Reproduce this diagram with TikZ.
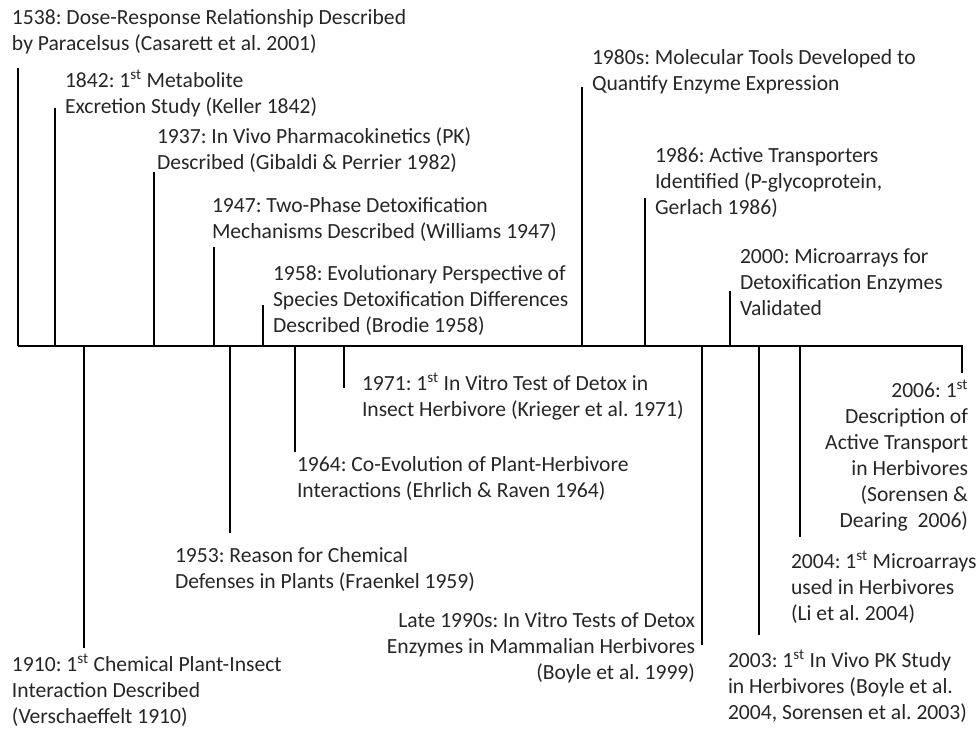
\documentclass[tikz,border=0pt]{standalone}
\usepackage{fontspec}
\setmainfont{Carlito}
\frenchspacing
\begin{document}
\begin{tikzpicture}[x=1pt,y=-1pt,
  tick/.style={line width=2.8pt,black},
  lbl/.style={inner sep=0pt,outer sep=0pt,font=\frenchspacing\fontsize{21.6}{26}\selectfont,text=black!85},
  lblL/.style={lbl,align=left,anchor=base west},
  lblR/.style={lbl,align=right,anchor=base east}]
\useasboundingbox (0,0) rectangle (977,729);
\def\st{\textsuperscript{st}}
% axis coordinates
\coordinate (a0) at (18,346);
\coordinate (aE) at (962,346);
\coordinate (eE) at (962,373);
% upward ticks
\coordinate (u1538) at (18,68);   \coordinate (b1538) at (18,346);
\coordinate (u1842) at (55,108);  \coordinate (b1842) at (55,346);
\coordinate (u1937) at (154,172); \coordinate (b1937) at (154,346);
\coordinate (u1947) at (214,247); \coordinate (b1947) at (214,346);
\coordinate (u1958) at (263,305); \coordinate (b1958) at (263,346);
\coordinate (u1980) at (582,87);  \coordinate (b1980) at (582,346);
\coordinate (u1986) at (645,198); \coordinate (b1986) at (645,346);
\coordinate (u2000) at (730,291); \coordinate (b2000) at (730,346);
% downward ticks
\coordinate (d1910) at (84,648);  \coordinate (c1910) at (84,346);
\coordinate (d1953) at (230,533); \coordinate (c1953) at (230,346);
\coordinate (d1964) at (295,452); \coordinate (c1964) at (295,346);
\coordinate (d1971) at (344,388); \coordinate (c1971) at (344,346);
\coordinate (d1990) at (702,645); \coordinate (c1990) at (702,346);
\coordinate (d2003) at (759,635); \coordinate (c2003) at (759,346);
\coordinate (d2004) at (800,537); \coordinate (c2004) at (800,346);

\draw[tick,line join=miter] (a0) -- (aE) -- (eE);
\foreach \n in {1538,1842,1937,1947,1958,1980,1986,2000}
  \draw[tick] (b\n) -- (u\n);
\foreach \n in {1910,1953,1964,1971,1990,2003,2004}
  \draw[tick] (c\n) -- (d\n);

% labels above (anchor = baseline of last line)
\node[lblL] (t1538) at (12,50) {1538: Dose-Response Relationship Described\\by Paracelsus (Casarett et al. 2001)};
\node[lblL] (t1842) at (65,113) {1842: 1\st{} Metabolite\\Excretion Study (Keller 1842)};
\node[lblL] (t1937) at (157,169) {1937: In Vivo Pharmacokinetics (PK)\\Described (Gibaldi \& Perrier 1982)};
\node[lblL] (t1947) at (212,238) {1947: Two-Phase Detoxification\\Mechanisms Described (Williams 1947)};
\node[lblL] (t1958) at (273,332) {1958: Evolutionary Perspective of\\Species Detoxification Differences\\Described (Brodie 1958)};
\node[lblL] (t1980) at (592,90) {1980s: Molecular Tools Developed to\\Quantify Enzyme Expression};
\node[lblL] (t1986) at (655,214) {1986: Active Transporters\\Identified (P-glycoprotein,\\Gerlach 1986)};
\node[lblL] (t2000) at (740,315) {2000: Microarrays for\\Detoxification Enzymes\\Validated};
% labels below
\node[lblL] (t1971) at (362,416) {1971: 1\st{} In Vitro Test of Detox in\\Insect Herbivore (Krieger et al. 1971)};
\node[lblL] (t1964) at (297,497) {1964: Co-Evolution of Plant-Herbivore\\Interactions (Ehrlich \& Raven 1964)};
\node[lblL] (t1953) at (175,588) {1953: Reason for Chemical\\Defenses in Plants (Fraenkel 1959)};
\node[lblL] (t1910) at (12,723) {1910: 1\st{} Chemical Plant-Insect\\Interaction Described\\(Verschaeffelt 1910)};
\node[lblR] (t1990) at (695,679) {Late 1990s: In Vitro Tests of Detox\\Enzymes in Mammalian Herbivores\\(Boyle et al. 1999)};
\node[lblL] (t2003) at (728,719) {2003: 1\st{} In Vivo PK Study\\in Herbivores (Boyle et al.\\2004, Sorensen et al. 2003)};
\node[lblL] (t2004) at (791,620) {2004: 1\st{} Microarrays\\used in Herbivores\\(Li et al. 2004)};
\node[lblR] (t2006) at (968,527) {2006: 1\st\\Description of\\Active Transport\\in Herbivores\\(Sorensen \&\\Dearing\ \ 2006)};
\end{tikzpicture}
\end{document}
